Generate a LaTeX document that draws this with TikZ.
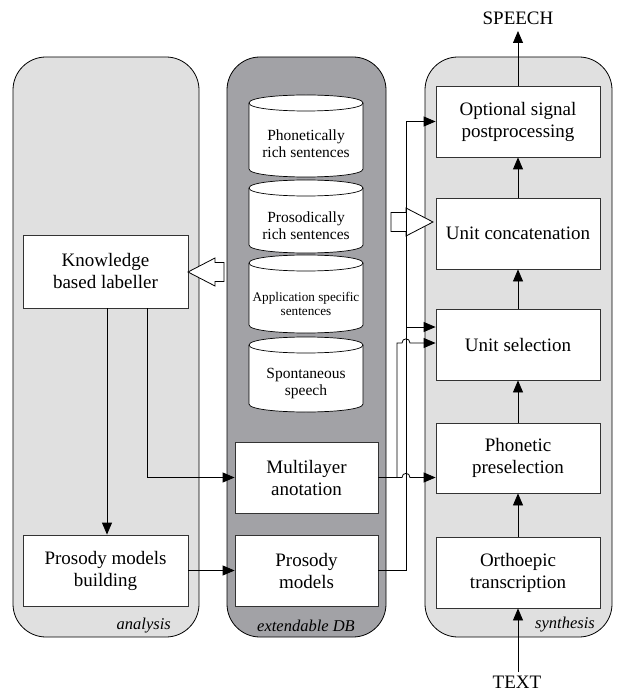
\documentclass[tikz,border=0pt]{standalone}
\usepackage{fontspec}
\setmainfont{Liberation Serif}
\usetikzlibrary{arrows.meta,calc}
\definecolor{lightpanel}{HTML}{E0E0E0}
\definecolor{darkpanel}{HTML}{A2A2A6}
\definecolor{boxline}{HTML}{333333}
\begin{document}
\begin{tikzpicture}[x=1pt,y=-1pt,
  panel/.style={draw=black,line width=0.8pt,rounded corners=33pt},
  procbox/.style={draw=boxline,fill=white,line width=0.8pt,align=center,inner sep=0pt,
    font=\rmfamily\fontsize{19}{22}\selectfont},
  cyl/.style={draw=black,fill=white,line width=0.7pt},
  cyltext/.style={align=center,font=\rmfamily\fontsize{15.5}{17}\selectfont},
  arr/.style={line width=0.8pt,-{Triangle[length=12pt,width=10pt]}},
  conn/.style={line width=0.8pt},
  hollow/.style={draw=black,fill=white,line width=0.8pt,line join=miter},
  lbl/.style={font=\rmfamily\fontsize{16.5}{18}\selectfont\itshape,inner sep=0pt},
  ext/.style={font=\rmfamily\fontsize{19}{22}\selectfont,inner sep=0pt}]
\useasboundingbox (0,0) rectangle (617,692);

% panels
\path[panel,fill=lightpanel] (13,57) rectangle (199,637);
\path[panel,fill=darkpanel] (227,57) rectangle (386,637);
\path[panel,fill=lightpanel] (425,57) rectangle (612,637);

% labels of panels
\node[lbl,anchor=east] (la) at (171,626) {analysis};
\node[lbl] (ld) at (306,626) {extendable DB};
\node[lbl,anchor=east] (ls) at (595,625) {synthesis};

% cylinders
\foreach \yt/\yb in {103/169,188/245,263/325,345/404}{
  \filldraw[cyl] (249,\yt) -- (249,\yb) .. controls (249,\yb+10.67) and (363,\yb+10.67) .. (363,\yb)
     -- (363,\yt) .. controls (363,\yt-10.67) and (249,\yt-10.67) .. (249,\yt) -- cycle;
  \draw[line width=0.7pt] (249,\yt) .. controls (249,\yt+10.67) and (363,\yt+10.67) .. (363,\yt);
}
\node[cyltext] (c1) at (306,144) {Phonetically\\rich sentences};
\node[cyltext] (c2) at (306,226) {Prosodically\\rich sentences};
\node[cyltext,font=\rmfamily\fontsize{13.2}{14.5}\selectfont] (c3) at (306,304) {Application specific\\sentences};
\node[cyltext] (c4) at (306,384) {Spontaneous\\speech};

% analysis boxes
\node[procbox,minimum width=165pt,minimum height=73pt] (K) at (105.5,271.5) {Knowledge\\based labeller};
\node[procbox,minimum width=165pt,minimum height=71pt] (PB) at (105.5,570.5) {Prosody models\\building};

% DB boxes
\node[procbox,minimum width=143pt,minimum height=71pt] (M) at (306.5,477.5) {Multilayer\\anotation};
\node[procbox,minimum width=143pt,minimum height=71pt] (PM) at (306.5,570.5) {Prosody\\models};

% synthesis boxes
\node[procbox,minimum width=164pt,minimum height=71pt] (O) at (518,121.5) {Optional signal\\postprocessing};
\node[procbox,minimum width=164pt,minimum height=71pt] (UC) at (518,233.5) {Unit concatenation};
\node[procbox,minimum width=164pt,minimum height=71pt] (US) at (518,344.5) {Unit selection};
\node[procbox,minimum width=164pt,minimum height=70pt] (PH) at (518,458) {Phonetic\\preselection};
\node[procbox,minimum width=164pt,minimum height=71pt] (OR) at (518,572.5) {Orthoepic\\transcription};

% external texts
\node[ext] (sp) at (518,18) {SPEECH};
\node[ext,anchor=base] (tx) at (517,688) {TEXT};
\coordinate (spin) at (518,31);
\coordinate (txout) at (518,672);

% hollow arrows
\draw[hollow] (188,272) -- (215,258) -- (215,262.5) -- (224,262.5) -- (224,281.5) -- (215,281.5) -- (215,286) -- cycle;
\draw[hollow] (433,222) -- (406,208) -- (406,212.5) -- (391,212.5) -- (391,231.5) -- (406,231.5) -- (406,236) -- cycle;

% synthesis chain
\draw[arr] (txout) -- (OR.south);
\draw[arr] (OR.north) -- (PH.south);
\draw[arr] (PH.north) -- (US.south);
\draw[arr] (US.north) -- (UC.south);
\draw[arr] (UC.north) -- (O.south);
\draw[arr] (O.north) -- (spin);

% analysis connectors
\draw[arr] ([xshift=1.5pt]K.south) -- ([xshift=1.5pt]PB.north);
\draw[arr] ([xshift=41.5pt]K.south) |- (M.west);
\draw[arr] (PB.east) -- (PM.west);

% DB -> synthesis connectors
\coordinate (v1) at (406,0);
\coordinate (j1) at (406,327);
\coordinate (j2) at (397,343);
\coordinate (j3) at (397,477.5);
\draw[arr] (PM.east) -| (v1 |- O.west) -- (O.west);
\draw[arr] (j1) -- (j1 -| US.west);
\draw[arr] (M.east) -- (402,477.5) .. controls (402,472) and (410,472) .. (410,477.5) -- (PH.west |- M.east);
\draw[arr] (j3) -- (j2) -- (402,343) .. controls (402,337.5) and (410,337.5) .. (410,343) -- (j2 -| US.west);
\end{tikzpicture}
\end{document}
